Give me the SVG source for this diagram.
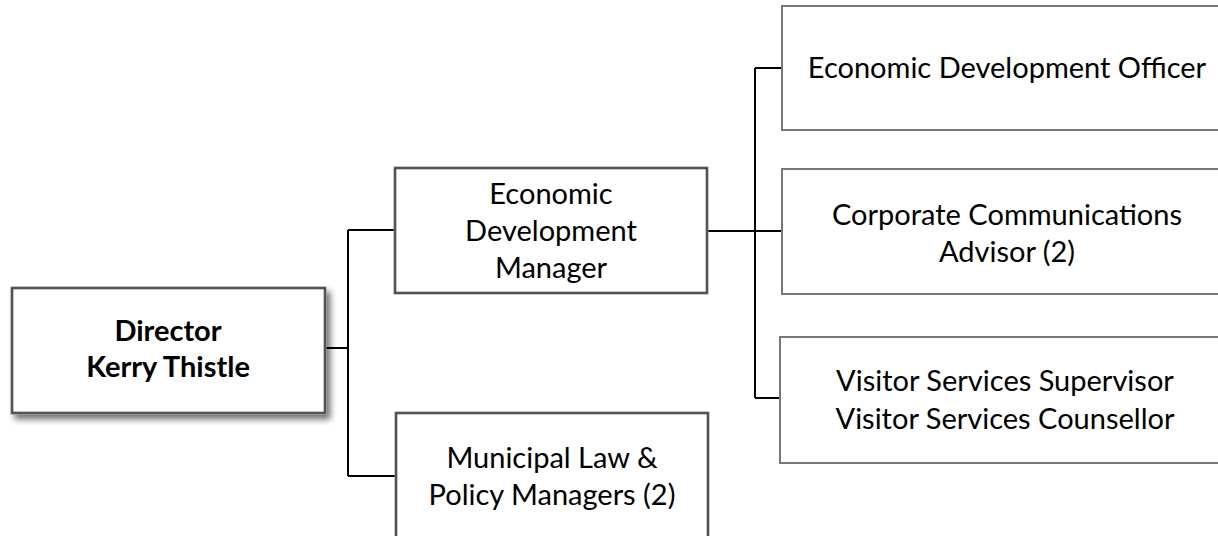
<svg xmlns="http://www.w3.org/2000/svg" width="1218" height="536" viewBox="0 0 1218 536">
  <defs>
    <filter id="shadow" x="-10%" y="-10%" width="130%" height="140%">
      <feGaussianBlur in="SourceAlpha" stdDeviation="3"/>
      <feOffset dx="4" dy="5" result="b"/>
      <feComponentTransfer><feFuncA type="linear" slope="0.55"/></feComponentTransfer>
      <feMerge><feMergeNode/><feMergeNode in="SourceGraphic"/></feMerge>
    </filter>
  </defs>
  <style>
    .bg { fill: #ffffff; }
    .dbl-outer { fill: #ffffff; stroke: #8a8a8a; stroke-width: 3; }
    .dbl-inner { fill: none; stroke: #1e1e1e; stroke-width: 1; }
    .single { fill: #ffffff; stroke: #777777; stroke-width: 2; }
    .conn { fill: none; stroke: #000000; stroke-width: 2; }
    text { font-family: "Lato", "Liberation Sans", sans-serif; font-size: 29px; fill: #000000; text-anchor: middle; }
    .bold { font-weight: bold; }
  </style>
  <rect class="bg" x="0" y="0" width="1218" height="536"/>

  <g id="connectors">
    <path class="conn" d="M325,348 H348"/>
    <path class="conn" d="M348,230 V476"/>
    <path class="conn" d="M348,230 H395"/>
    <path class="conn" d="M348,476 H396"/>
    <path class="conn" d="M707,231 H782"/>
    <path class="conn" d="M755,68 V398"/>
    <path class="conn" d="M755,68 H782"/>
    <path class="conn" d="M755,398 H780"/>
  </g>

  <g id="director">
    <rect class="dbl-outer" x="12" y="288" width="313" height="125" filter="url(#shadow)"/>
    <rect class="dbl-inner" x="12" y="288" width="313" height="125"/>
    <text class="bold" x="168" y="341">Director</text>
    <text class="bold" x="168" y="377">Kerry Thistle</text>
  </g>

  <g id="ed-manager">
    <rect class="dbl-outer" x="395" y="168" width="312" height="125"/>
    <rect class="dbl-inner" x="395" y="168" width="312" height="125"/>
    <text x="551" y="204">Economic</text>
    <text x="551" y="241">Development</text>
    <text x="551" y="278">Manager</text>
  </g>

  <g id="municipal-law">
    <rect class="dbl-outer" x="396" y="413" width="312" height="140"/>
    <rect class="dbl-inner" x="396" y="413" width="312" height="140"/>
    <text x="552" y="468">Municipal Law &amp;</text>
    <text x="552" y="505">Policy Managers (2)</text>
  </g>

  <g id="ed-officer">
    <rect class="single" x="782" y="6" width="460" height="124"/>
    <text x="1007" y="78">Economic Development Officer</text>
  </g>

  <g id="comms-advisor">
    <rect class="single" x="782" y="169" width="460" height="125"/>
    <text x="1007" y="225">Corporate Communications</text>
    <text x="1007" y="262">Advisor (2)</text>
  </g>

  <g id="visitor-services">
    <rect class="single" x="780" y="337" width="460" height="126"/>
    <text x="1005" y="391">Visitor Services Supervisor</text>
    <text x="1005" y="429">Visitor Services Counsellor</text>
  </g>
</svg>
